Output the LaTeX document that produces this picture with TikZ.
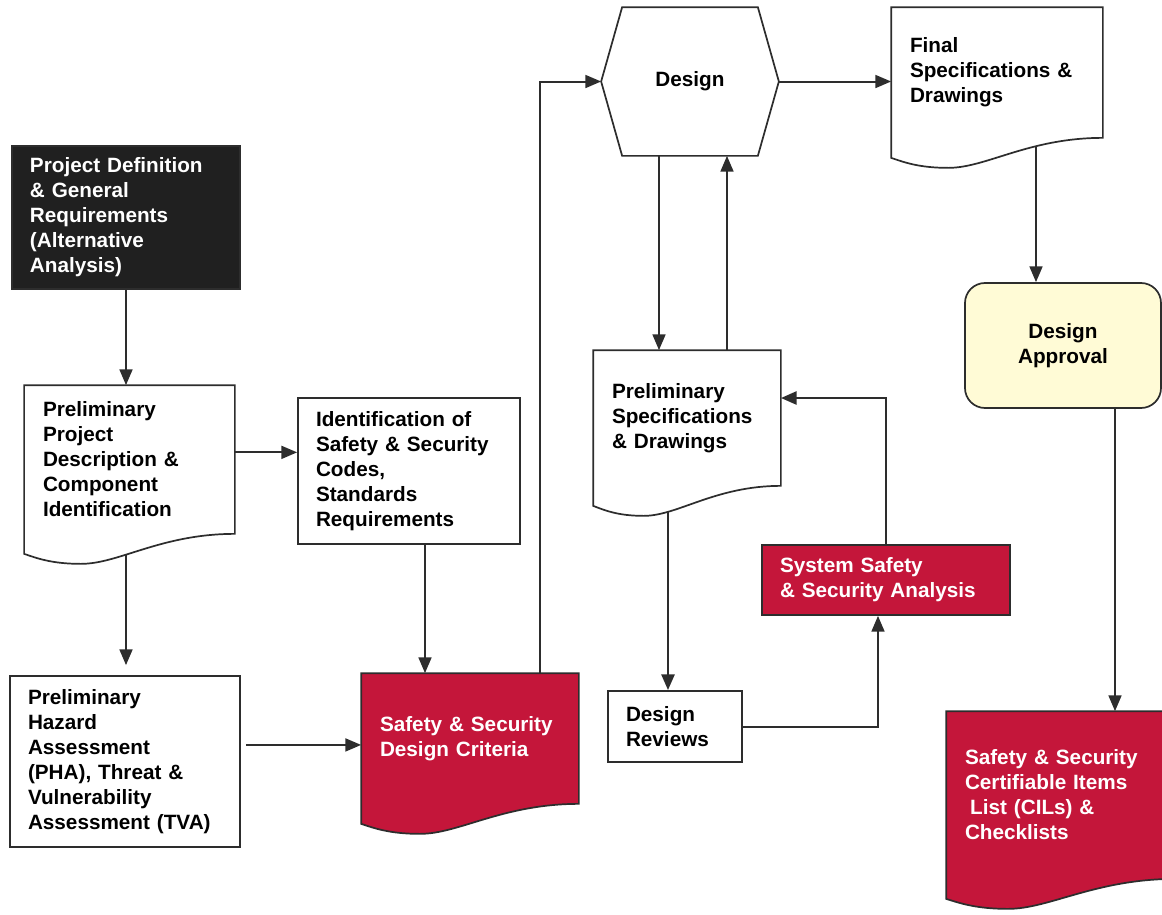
\documentclass[tikz,border=0pt]{standalone}
\usepackage{fontspec}
\setmainfont{Liberation Sans}
\usetikzlibrary{arrows.meta,backgrounds,calc}
\definecolor{critred}{RGB}{196,22,58}
\definecolor{darkbox}{RGB}{32,32,32}
\definecolor{approvalyellow}{RGB}{255,251,214}
\definecolor{linegray}{RGB}{45,45,45}
\tikzset{
  box/.style={draw=linegray, line width=1.2pt, fill=white, inner xsep=12.6pt, inner ysep=0pt,
    align=left, font=\fontsize{14.5}{17.5}\selectfont\bfseries},
  doc/.style={box, draw=none, fill=none},
  arr/.style={draw=linegray, line width=1.4pt, -{Triangle[length=11pt,width=9pt]}},
  thickarr/.style={arr, line width=2pt},
}
% document outline with a wavy lower edge, drawn behind the node text
\newcommand\docoutline[2]{%
  \draw[draw=linegray, line width=1.2pt, fill=#2]
    let \p1=(#1.north west), \p2=(#1.south east), \n1={\x2-\x1} in
    (\p1) -- (\x2,\y1) -- (\p2)
    .. controls (\x2-0.35*\n1,\y2) and (\x1+0.45*\n1,\y2-21pt) .. (\x1+0.27*\n1,\y2-21pt)
    .. controls (\x1+0.13*\n1,\y2-21pt) and (\x1+0.06*\n1,\y2-17pt) .. (\x1,\y2-14pt) -- cycle;}
\begin{document}
\begin{tikzpicture}[x=0.7pt,y=-0.7pt]
\useasboundingbox (0,0) rectangle (1162,914);
\clip (0,0) rectangle (1162,914);

\node[box, fill=darkbox, text=white, minimum width=159.6pt, minimum height=100.1pt, text width=134.4pt]
  (projdef) at (126,217.5) {Project Definition\\ \& General\\ Requirements\\ (Alternative\\ Analysis)};
\node[doc, minimum width=146.3pt, minimum height=102.9pt, text width=121.1pt]
  (pdesc) at (129.5,459.5) {Preliminary\\ Project\\ Description \&\\ Component\\ Identification};
\node[box, minimum width=155.4pt, minimum height=102.2pt, text width=130.2pt]
  (ident) at (409,471) {Identification of\\ Safety \& Security\\ Codes,\\ Standards\\ Requirements};
\node[box, minimum width=161pt, minimum height=119.7pt, text width=135.8pt]
  (pha) at (125,761.5) {Preliminary\\ Hazard\\ Assessment\\ (PHA), Threat \&\\ Vulnerability\\ Assessment (TVA)};
\node[doc, text=white, minimum width=151.2pt, minimum height=90.3pt, text width=126pt]
  (crit) at (470,738.5) {Safety \& Security\\ Design Criteria};
\node[doc, align=center, minimum width=123.2pt, minimum height=102.9pt]
  (design) at (690,81.5) {\raisebox{3pt}{Design}};
\node[doc, minimum width=147pt, minimum height=90.3pt, text width=121.8pt]
  (final) at (997,72.5) {Final\\ Specifications \&\\ Drawings};
\node[box, fill=approvalyellow, rounded corners=14pt, align=center, minimum width=137.2pt, minimum height=87.5pt]
  (approval) at (1063,345.5) {Design\\ Approval};
\node[doc, minimum width=130.2pt, minimum height=93.8pt, text width=105pt]
  (pspec) at (687,418) {Preliminary\\ Specifications\\ \& Drawings};
\node[box, fill=critred, text=white, minimum width=173.6pt, minimum height=49pt, text width=148.4pt]
  (sys) at (886,580) {System Safety\\ \& Security Analysis};
\node[box, minimum width=93.8pt, minimum height=49.7pt, text width=68.6pt]
  (reviews) at (675,726.5) {Design\\ Reviews};
\node[doc, text=white, minimum width=159.6pt, minimum height=116.2pt, text width=134.4pt]
  (cils) at (1061,795) {Safety \& Security\\ Certifiable Items\\ \hspace*{0.25em}List (CILs) \&\\ Checklists};

% hexagon round the design step
\draw[draw=linegray, line width=1.2pt] (design.west) -- ([xshift=14.7pt]design.north west)
  -- ([xshift=-14.7pt]design.north east) -- (design.east)
  -- ([xshift=-14.7pt]design.south east) -- ([xshift=14.7pt]design.south west) -- cycle;

\begin{scope}[on background layer]
  % connectors
  \draw[arr] (projdef.south) -- (projdef.south |- pdesc.north);
  \draw[arr, shorten >=7pt] (projdef.south |- pdesc.south) -- (projdef.south |- pha.north);
  \draw[arr] ([yshift=5pt]pdesc.east) -- ([yshift=5pt]pdesc.east -| ident.west);
  \draw[arr] ([xshift=11.2pt]ident.south) -- ([xshift=11.2pt]ident.south |- crit.north);
  \coordinate (critin) at ([yshift=-4.5pt]crit.west);
  \draw[arr, shorten <=3.5pt] (pha.east |- critin) -- (critin);
  \draw[arr] ([xshift=49pt]crit.north) |- (design.west);
  \draw[arr] (design.east) -- (design.east -| final.west);
  \draw[arr] ([xshift=-21.7pt]design.south) -- ([xshift=-21.7pt]design.south |- pspec.north);
  \draw[arr] ([xshift=28pt]pspec.north) -- ([xshift=28pt]pspec.north |- design.south);
  \draw[arr] ([xshift=27.3pt]final.south) -- ([xshift=27.3pt]final.south |- approval.north);
  \draw[arr] ([xshift=36.4pt]approval.south) -- ([xshift=36.4pt]approval.south |- cils.north);
  \draw[thickarr] ([xshift=-13.3pt]pspec.south) -- ([xshift=-13.3pt]pspec.south |- reviews.north);
  \draw[arr] (reviews.east) -| ([xshift=-5.6pt]sys.south);
  \draw[thickarr] (sys.north) |- ([yshift=14pt]pspec.east);
  % document shapes
  \docoutline{pdesc}{white}
  \docoutline{crit}{critred}
  \docoutline{final}{white}
  \docoutline{pspec}{white}
  \docoutline{cils}{critred}
\end{scope}
\end{tikzpicture}
\end{document}
